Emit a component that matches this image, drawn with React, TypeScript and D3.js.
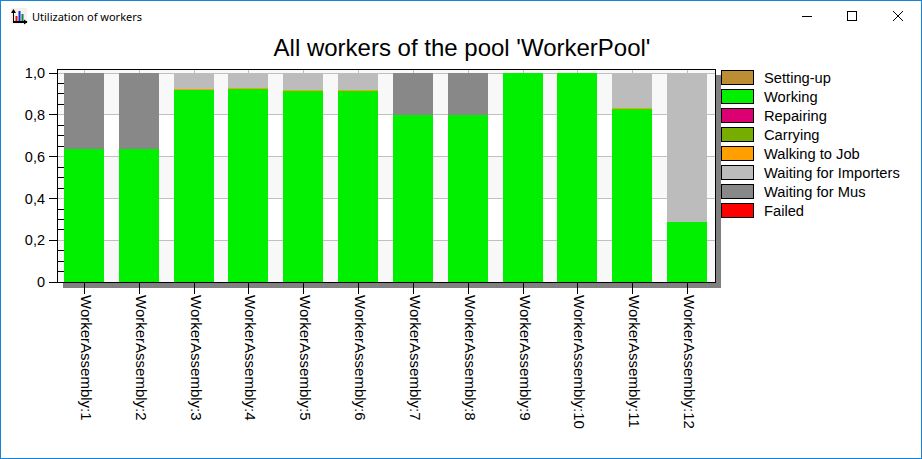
import React from 'react';
import * as d3 from 'd3';

const workers = ['WorkerAssembly:1', 'WorkerAssembly:2', 'WorkerAssembly:3', 'WorkerAssembly:4', 'WorkerAssembly:5', 'WorkerAssembly:6',
    'WorkerAssembly:7', 'WorkerAssembly:8', 'WorkerAssembly:9', 'WorkerAssembly:10', 'WorkerAssembly:11', 'WorkerAssembly:12'];

const settingUp = [0, 0, 0, 0, 0, 0, 0, 0, 0, 0, 0, 0];
const working = [0.635, 0.635, 0.919, 0.924, 0.914, 0.914, 0.797, 0.797, 1, 1, 0.827, 0.29];
const repairing = [0, 0, 0, 0, 0, 0, 0, 0, 0, 0, 0, 0];
const carrying = [0, 0, 0, 0, 0, 0, 0, 0, 0, 0, 0, 0];
const walking = [0, 0, 0.005, 0.005, 0.005, 0.005, 0, 0, 0, 0, 0.005, 0];
const importers = [0, 0, 0.076, 0.071, 0.081, 0.081, 0, 0, 0, 0, 0.168, 0.71];
const mus = [0.365, 0.365, 0, 0, 0, 0, 0.203, 0.203, 0, 0, 0, 0];
const failed = [0, 0, 0, 0, 0, 0, 0, 0, 0, 0, 0, 0];

const seriesNames = ['Setting-up', 'Working', 'Repairing', 'Carrying', 'Walking to Job', 'Waiting for Importers', 'Waiting for Mus', 'Failed'];
const seriesColors = ['#bd8d34', '#00f000', '#dc0073', '#76ae00', '#ffa000', '#bcbcbc', '#888888', '#ff0000'];
const seriesValues = [settingUp, working, repairing, carrying, walking, importers, mus, failed];

const yTicks = [0, 0.2, 0.4, 0.6, 0.8, 1];
const minorTicks = d3.range(0, 21).map(i => i / 20).filter(t => Math.round(t * 20) % 4 !== 0);

const width = 922;
const height = 459;
const plot = { left: 57, right: 715, top: 73, bottom: 282.3 };
const sans = "'Liberation Sans', Arial, sans-serif";

export default function App() {
    const x = d3.scaleBand<string>().domain(workers).range([plot.left, plot.right]).paddingInner(0.27).paddingOuter(0.135);
    const y = d3.scaleLinear().domain([0, 1]).range([plot.bottom, plot.top]);
    const legendY = d3.scaleBand<string>().domain(seriesNames).range([67, 219]);

    const table = workers.map((w, i) => {
        const row: any = { worker: w };
        seriesNames.forEach((s, k) => { row[s] = seriesValues[k][i]; });
        return row;
    });
    const stacked = d3.stack<any>().keys(seriesNames)(table);
    const fmt = (t: number) => (t === 0 ? '0' : d3.format('.1f')(t).replace('.', ','));
    const gy = (t: number) => Math.floor(y(t)) + 0.5;
    const barX = (w: string) => Math.floor(x(w)!);

    return (
        <svg width={width} height={height} style={{ position: 'fixed', left: 0, top: 0, display: 'block', background: '#fff' }}>
            <rect x={0.5} y={0.5} width={width - 1} height={height - 1} fill="#fff" stroke="#1883d7" />

            {/* title bar */}
            <rect x={11} y={8} width={16} height={16} fill="#f4f1ec" />
            <g stroke="#000" fill="none" strokeWidth={1.4} shapeRendering="crispEdges">
                <path d="M13.5 10v12h13" />
            </g>
            <path d="M11 13l2.5-4 2.5 4zM24 19.5l3.5 2.5-3.5 2.5z" fill="#000" />
            <rect x={15.5} y={16} width={2} height={5} fill="#e81010" />
            <rect x={18.5} y={11} width={2} height={10} fill="#1030e0" />
            <rect x={21.5} y={14} width={2} height={7} fill="#108040" />
            <text x={32} y={21} fontFamily="'Noto Sans', sans-serif" fontSize={11} fill="#000">Utilization of workers</text>
            <g stroke="#000" fill="none" shapeRendering="crispEdges">
                <path d="M802 16.5h10" />
                <rect x={847.5} y={11.5} width={9} height={9} />
            </g>
            <path d="M893 11l10 10M903 11l-10 10" stroke="#000" fill="none" />

            <text x={462} y={56} textAnchor="middle" fontFamily={sans} fontSize={24} fill="#000">All workers of the pool 'WorkerPool'</text>

            {/* shadow */}
            <rect x={63} y={283} width={658} height={5} fill="#808080" />
            <rect x={716} y={75} width={5} height={213} fill="#808080" />

            {/* plot background */}
            <rect x={plot.left} y={69} width={plot.right - plot.left} height={plot.bottom - 69} fill="#fff" />
            <rect x={plot.left} y={69} width={plot.right - plot.left} height={gy(0.8) - 69} fill="#f8f8f8" />
            {yTicks.slice(0, -1).map((t, i) => i % 2 === 0 && (
                <rect key={t} x={plot.left} y={gy(t + 0.2)} width={plot.right - plot.left} height={gy(t) - gy(t + 0.2)} fill="#f8f8f8" />
            ))}
            {yTicks.map(t => (
                <line key={t} x1={plot.left} x2={plot.right} y1={gy(t)} y2={gy(t)} stroke="#c0c0c0" />
            ))}

            {stacked.map((layer, k) => layer.map((d, i) => {
                if (d[1] <= d[0]) return null;
                const top = Math.round(y(d[1]));
                const bottom = Math.round(y(d[0]));
                return (
                    <rect key={k + '-' + i} x={barX(workers[i])} y={top} width={Math.floor(x.bandwidth())}
                        height={Math.max(1, bottom - top)} fill={seriesColors[k]} shapeRendering="crispEdges" />
                );
            }))}

            {/* frame and ticks */}
            <rect x={plot.left + 0.5} y={69.5} width={plot.right - plot.left} height={213} fill="none" stroke="#000" shapeRendering="crispEdges" />
            {yTicks.map(t => (
                <g key={t}>
                    <line x1={49} x2={plot.left} y1={gy(t)} y2={gy(t)} stroke="#000" />
                    <text x={45} y={y(t) + 5} textAnchor="end" fontFamily={sans} fontSize={14.5} fill="#000">{fmt(t)}</text>
                </g>
            ))}
            {minorTicks.map(t => (
                <line key={t} x1={plot.left} x2={plot.left + 7} y1={gy(t)} y2={gy(t)} stroke="#000" />
            ))}
            {workers.map(w => {
                const cx = barX(w) + 20.5;
                return (
                    <g key={w}>
                        <line x1={cx} x2={cx} y1={70} y2={73} stroke="#c0c0c0" />
                        <line x1={cx} x2={cx} y1={283} y2={294} stroke="#000" />
                        <text transform={`translate(${cx - 3.5},295) rotate(90)`} fontFamily={sans} fontSize={15} fill="#000">{w}</text>
                    </g>
                );
            })}

            {/* legend */}
            {seriesNames.map((s, k) => (
                <g key={s}>
                    <rect x={721.5} y={legendY(s)! + 3.5} width={32} height={14} fill={seriesColors[k]} stroke="#000" shapeRendering="crispEdges" />
                    <text x={764} y={legendY(s)! + 15.5} fontFamily={sans} fontSize={14.7} fill="#000">{s}</text>
                </g>
            ))}
        </svg>
    );
}
